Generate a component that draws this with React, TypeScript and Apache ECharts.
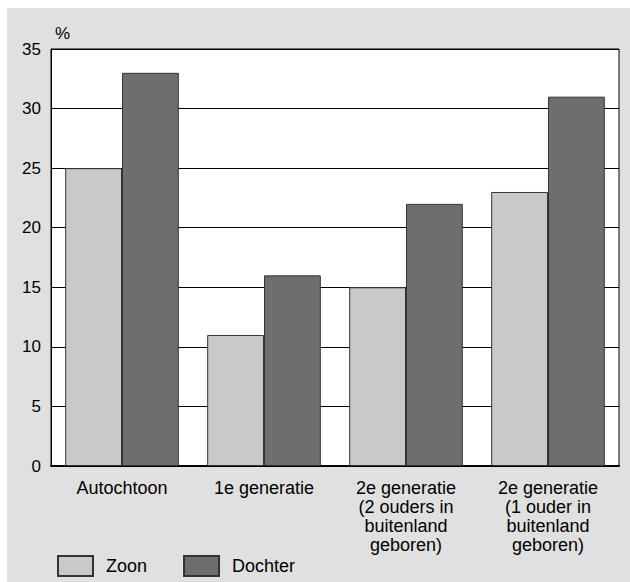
import React, { useEffect, useRef } from "react";
import * as echarts from "echarts";

const categories = [
  "Autochtoon",
  "1e generatie",
  "2e generatie\n(2 ouders in\nbuitenland\ngeboren)",
  "2e generatie\n(1 ouder in\nbuitenland\ngeboren)",
];
const zoon = [25, 11, 15, 23];
const dochter = [33, 16, 22, 31];
const seriesNames = ["Zoon", "Dochter"];

const FONT = "'Liberation Sans', Arial, Helvetica, sans-serif";

export default function App() {
  const ref = useRef<HTMLDivElement>(null);
  useEffect(() => {
    if (!ref.current) return;
    const chart = echarts.init(ref.current, undefined, { renderer: "svg" });
    chart.setOption({
      animation: false,
      textStyle: { fontFamily: FONT, color: "#000" },
      grid: {
        left: 44,
        top: 41,
        right: 11,
        bottom: 116,
        show: true,
        backgroundColor: "#ffffff",
        borderColor: "#000",
        borderWidth: 1,
        containLabel: false,
      },
      legend: {
        left: 45,
        top: 542,
        itemWidth: 35,
        itemHeight: 20,
        itemGap: 36,
        icon: "rect",
        data: seriesNames,
        textStyle: {
          fontFamily: FONT,
          fontSize: 18,
          color: "#000",
          padding: [4, 0, 0, 8],
        },
      },
      xAxis: {
        type: "category",
        data: categories,
        axisTick: { show: false },
        axisLine: { show: true, lineStyle: { color: "#000", width: 2 } },
        axisLabel: {
          fontFamily: FONT,
          fontSize: 18,
          color: "#000",
          lineHeight: 19,
          margin: 12,
          interval: 0,
          align: "center",
        },
      },
      yAxis: {
        type: "value",
        min: 0,
        max: 35,
        interval: 5,
        axisTick: { show: false },
        axisLine: { show: true, lineStyle: { color: "#000", width: 1 } },
        splitLine: { show: true, lineStyle: { color: "#000", width: 1 } },
        axisLabel: {
          fontFamily: FONT,
          fontSize: 17,
          color: "#000",
          margin: 10,
        },
      },
      graphic: [
        {
          type: "text",
          left: 48,
          top: 17,
          style: {
            text: "%",
            fontFamily: FONT,
            fontSize: 17,
            fill: "#000",
          },
        },
      ],
      series: [
        {
          name: seriesNames[0],
          type: "bar",
          data: zoon,
          barGap: "0%",
          barCategoryGap: "20%",
          itemStyle: { color: "#c9c9c9", borderColor: "#333", borderWidth: 1 },
        },
        {
          name: seriesNames[1],
          type: "bar",
          data: dochter,
          barGap: "0%",
          barCategoryGap: "20%",
          itemStyle: { color: "#6e6e6e", borderColor: "#333", borderWidth: 1 },
        },
      ],
    });
    return () => chart.dispose();
  }, []);

  return (
    <div
      style={{
        position: "absolute",
        left: 0,
        top: 0,
        width: 630,
        height: 582,
        background: "#ffffff",
        overflow: "hidden",
      }}
    >
      <div
        ref={ref}
        style={{
          position: "absolute",
          left: 7,
          top: 8,
          width: 623,
          height: 574,
          background: "#e0e0e0",
        }}
      />
    </div>
  );
}
